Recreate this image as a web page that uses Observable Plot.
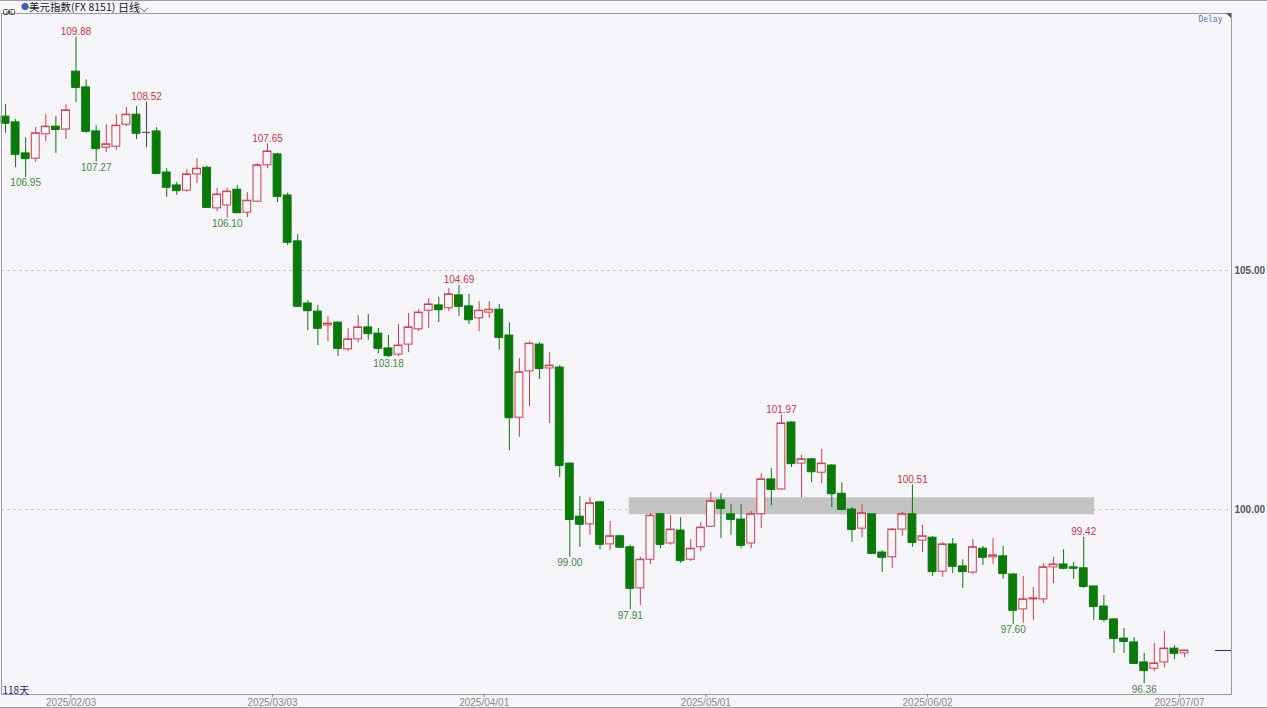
<!DOCTYPE html>
<html>
<head>
<meta charset="utf-8">
<script src="https://cdn.jsdelivr.net/npm/d3@7"></script>
<script src="https://cdn.jsdelivr.net/npm/@observablehq/plot@0.6"></script>
<style>
  html, body { margin: 0; padding: 0; background: #f5f5fa; }
  #wrap { position: relative; width: 1267px; height: 708px; overflow: hidden; background: #f5f5fa; }
  #bar { position: relative; height: 12px; border-top: 1px solid #9c9c9c; font-family: "Noto Sans CJK SC", sans-serif; font-size: 11px; line-height: 12px; color: #1a1a1a; white-space: nowrap; }
  #bar span { position: absolute; top: 0; }
  #title { font-size: 10.5px; }
  #bottom-line { position: absolute; left: 0; right: 0; top: 707px; height: 1px; background: #9c9c9c; }
  #corner { position: absolute; left: 1226px; top: 13px; width: 0; height: 0; border-top: 5px solid #555; border-left: 5px solid transparent; }
  #chart svg { display: block; }
</style>
</head>
<body>
<div id="wrap">
  <div id="bar">
    <span style="left:3px;top:3px">
      <svg width="12" height="6" viewBox="0 0 12 6"><rect x="0.5" y="0.5" width="5" height="5" rx="1" fill="none" stroke="#555"/><rect x="6.5" y="0.5" width="5" height="5" rx="1" fill="none" stroke="#555"/><line x1="3" y1="3" x2="9" y2="3" stroke="#555"/></svg>
    </span>
    <span style="left:21px;color:#3a5fb0;font-size:8px">●</span>
    <span id="title" style="left:29px"></span>
    <span id="period" style="left:118px"></span>
  </div>
  <div id="chart"></div>
  <div id="corner"></div>
  <div id="bottom-line"></div>
</div>
<script>
// US Dollar Index, daily candles 2025/01/23 – 2025/07/07
const title = "美元指数(FX 8151)";
const period = "日线⌵";
const dayCount = "118天";

const dates = [
  "2025/01/23","2025/01/24","2025/01/27","2025/01/28","2025/01/29","2025/01/30","2025/01/31",
  "2025/02/03","2025/02/04","2025/02/05","2025/02/06","2025/02/07",
  "2025/02/10","2025/02/11","2025/02/12","2025/02/13","2025/02/14",
  "2025/02/17","2025/02/18","2025/02/19","2025/02/20","2025/02/21",
  "2025/02/24","2025/02/25","2025/02/26","2025/02/27","2025/02/28",
  "2025/03/03","2025/03/04","2025/03/05","2025/03/06","2025/03/07",
  "2025/03/10","2025/03/11","2025/03/12","2025/03/13","2025/03/14",
  "2025/03/17","2025/03/18","2025/03/19","2025/03/20","2025/03/21",
  "2025/03/24","2025/03/25","2025/03/26","2025/03/27","2025/03/28",
  "2025/03/31","2025/04/01","2025/04/02","2025/04/03","2025/04/04",
  "2025/04/07","2025/04/08","2025/04/09","2025/04/10","2025/04/11",
  "2025/04/14","2025/04/15","2025/04/16","2025/04/17","2025/04/18",
  "2025/04/21","2025/04/22","2025/04/23","2025/04/24","2025/04/25",
  "2025/04/28","2025/04/29","2025/04/30","2025/05/01","2025/05/02",
  "2025/05/05","2025/05/06","2025/05/07","2025/05/08","2025/05/09",
  "2025/05/12","2025/05/13","2025/05/14","2025/05/15","2025/05/16",
  "2025/05/19","2025/05/20","2025/05/21","2025/05/22","2025/05/23",
  "2025/05/26","2025/05/27","2025/05/28","2025/05/29","2025/05/30",
  "2025/06/02","2025/06/03","2025/06/04","2025/06/05","2025/06/06",
  "2025/06/09","2025/06/10","2025/06/11","2025/06/12","2025/06/13",
  "2025/06/16","2025/06/17","2025/06/18","2025/06/19","2025/06/20",
  "2025/06/23","2025/06/24","2025/06/25","2025/06/26","2025/06/27",
  "2025/06/30","2025/07/01","2025/07/02","2025/07/03","2025/07/04",
  "2025/07/07"
];

const open = [
  108.22,108.10,107.45,107.34,107.85,108.01,107.95,
  109.16,108.83,107.91,107.57,107.59,
  108.05,108.26,107.89,107.91,107.05,
  106.78,106.67,107.01,107.15,106.30,
  106.36,106.69,106.21,106.44,107.20,
  107.43,106.57,105.61,104.31,104.14,
  103.85,103.91,103.35,103.56,103.81,
  103.68,103.37,103.24,103.45,103.77,
  104.16,104.27,104.21,104.48,104.25,
  104.00,104.12,104.18,103.64,101.92,
  102.89,103.45,102.95,102.97,100.96,
  99.85,99.69,100.15,99.27,99.44,
  99.21,98.35,98.95,99.90,99.29,
  99.56,98.95,99.21,99.64,100.19,
  99.90,99.79,99.29,99.90,100.63,
  100.42,101.82,100.96,101.05,100.77,
  100.92,100.33,100.00,99.60,99.90,
  99.10,99.00,99.58,99.90,99.35,
  99.41,98.70,99.27,98.81,98.68,
  99.18,99.00,99.02,98.64,97.91,
  98.12,98.12,98.79,98.85,98.79,
  98.77,98.39,97.97,97.70,97.30,
  97.22,96.80,96.67,96.80,97.09,
  96.99
];

const high = [
  108.47,108.16,107.78,107.99,108.26,108.22,108.47,
  109.88,108.99,108.03,108.05,108.26,
  108.41,108.43,108.52,107.99,107.13,
  106.84,107.11,107.34,107.18,106.72,
  106.72,106.78,106.63,107.24,107.65,
  107.45,106.62,105.75,104.37,104.27,
  104.04,103.93,103.79,104.06,104.08,
  103.79,103.64,103.87,104.10,104.18,
  104.41,104.44,104.62,104.69,104.50,
  104.35,104.35,104.29,103.91,103.16,
  103.51,103.49,103.28,103.01,100.98,
  100.27,100.25,100.17,99.75,99.46,
  99.25,99.00,99.92,99.92,99.87,
  99.83,99.37,99.73,100.36,100.33,
  100.10,100.10,99.96,100.75,100.86,
  101.97,101.84,101.13,101.07,101.26,
  100.94,100.56,100.04,100.10,99.90,
  99.14,99.60,99.94,100.51,99.67,
  99.44,99.31,99.39,98.95,99.37,
  99.23,99.39,99.23,98.66,98.60,
  98.37,98.87,99.00,99.16,98.89,
  99.42,98.39,98.20,97.72,97.51,
  97.32,96.99,97.20,97.45,97.15,
  97.05
];

const low = [
  107.87,107.15,106.95,107.26,107.70,107.45,107.74,
  108.51,107.87,107.27,107.47,107.51,
  108.01,107.74,107.57,107.01,106.53,
  106.57,106.64,106.82,106.30,106.23,
  106.10,106.19,106.11,106.42,107.13,
  106.42,105.52,104.23,103.74,103.43,
  103.51,103.20,103.31,103.49,103.54,
  103.26,103.18,103.20,103.28,103.72,
  103.79,103.91,104.14,104.04,103.87,
  103.72,104.00,103.33,101.23,101.51,
  102.15,102.72,101.80,100.67,99.00,
  99.21,99.46,99.16,99.14,99.19,
  97.91,97.99,98.85,99.18,99.25,
  98.87,98.91,99.12,99.62,99.39,
  99.46,99.18,99.18,99.60,100.08,
  100.40,100.88,100.25,100.56,100.54,
  100.04,99.98,99.31,99.41,99.06,
  98.68,98.77,99.44,99.21,99.10,
  98.60,98.58,98.66,98.35,98.64,
  98.83,98.85,98.54,97.60,97.62,
  97.68,98.03,98.45,98.74,98.54,
  98.35,97.68,97.64,96.99,96.99,
  96.76,96.36,96.61,96.69,96.86,
  96.90
];

const close = [
  108.08,107.43,107.34,107.87,108.01,107.95,108.35,
  108.83,107.91,107.55,107.64,108.03,
  108.26,107.87,107.89,107.03,106.74,
  106.67,107.01,107.13,106.32,106.59,
  106.65,106.21,106.46,107.20,107.49,
  106.55,105.59,104.25,104.16,103.79,
  103.89,103.37,103.56,103.81,103.68,
  103.37,103.22,103.43,103.81,104.12,
  104.29,104.18,104.50,104.25,103.97,
  104.16,104.18,103.60,101.92,102.87,
  103.47,102.95,103.01,100.92,99.79,
  99.69,100.13,99.27,99.44,99.21,
  98.35,98.95,99.87,99.27,99.58,
  98.93,99.18,99.62,100.17,100.02,
  99.79,99.25,99.90,100.63,100.42,
  101.80,100.96,101.05,100.79,100.96,
  100.33,100.00,99.58,99.92,99.08,
  99.00,99.58,99.90,99.31,99.44,
  98.70,99.27,98.81,98.70,99.21,
  99.00,99.04,98.66,97.89,98.12,
  98.14,98.79,98.85,98.77,98.77,
  98.39,97.97,97.70,97.30,97.24,
  96.78,96.63,96.78,97.09,96.99,
  97.05
];

// Swing highs / lows annotated on the chart
const highMarks = ["2025/02/03","2025/02/12","2025/02/28","2025/03/27","2025/05/12","2025/05/29","2025/06/23"];
const lowMarks  = ["2025/01/27","2025/02/05","2025/02/24","2025/03/18","2025/04/11","2025/04/21","2025/06/12","2025/07/01"];

// Shaded resistance zone around 100
const zoneFrom = "2025/04/21";
const zoneTo = "2025/06/24";
const zoneLow = 99.89;
const zoneHigh = 100.245;

const yTicks = [100, 105];
const xTicks = ["2025/02/03","2025/03/03","2025/04/01","2025/05/01","2025/06/02","2025/07/07"];

// --- styling ---
const RED = "#d23c48";
const GREEN = "#0a7a0a";
const FLAT = "#444444";
const BG = "#f5f5fa";

document.getElementById("title").textContent = title;
document.getElementById("period").textContent = period;

const candles = dates.map((date, i) => ({date, open: open[i], high: high[i], low: low[i], close: close[i]}));
const idx = new Map(dates.map((d, i) => [d, i]));
const tone = d => d.close > d.open ? RED : d.close < d.open ? GREEN : FLAT;

// band layout: first candle centred at x=5, last at x=1184
const n = dates.length;
const firstX = 5, lastX = 1184, pad = 0.22;
const step = (lastX - firstX) / (n - 1);
const r0 = firstX - step * (1 + pad) / 2;
const r1 = r0 + step * (n + pad);

const chart = Plot.plot({
  width: 1267,
  height: 694,
  marginLeft: 1,
  marginRight: 36,
  marginTop: 0,
  marginBottom: 13,
  style: {background: "transparent", fontFamily: "'Liberation Sans', Arial, sans-serif", fontSize: "10px", color: "#8a8a8a", overflow: "visible"},
  x: {type: "band", domain: dates, range: [r0, r1], padding: pad, round: false, axis: null},
  y: {domain: [96.13, 110.377], axis: null},
  color: {type: "identity"},
  marks: [
    Plot.ruleY(yTicks, {stroke: "#c6c6cc", strokeDasharray: "3,3"}),
    Plot.rect([{from: zoneFrom, to: zoneTo, lo: zoneLow, hi: zoneHigh}], {
      x1: "from", x2: "to", y1: "lo", y2: "hi", fill: "#c3c3c3", insetLeft: 3, insetRight: 3
    }),
    Plot.ruleX(candles, {x: "date", y1: "low", y2: "high", stroke: tone, strokeWidth: 1}),
    Plot.barY(candles, {
      x: "date", y1: "open", y2: "close",
      fill: d => d.close > d.open ? BG : tone(d),
      stroke: tone, strokeWidth: 1
    }),
    Plot.tickY(candles, {x: "date", y: "close", stroke: tone, strokeWidth: 1}),
    Plot.text(highMarks, {
      x: d => d, y: d => high[idx.get(d)], text: d => high[idx.get(d)].toFixed(2),
      lineAnchor: "bottom", dy: -2, fill: "#cc3640"
    }),
    Plot.text(lowMarks, {
      x: d => d, y: d => low[idx.get(d)], text: d => low[idx.get(d)].toFixed(2),
      lineAnchor: "top", dy: 2, fill: "#3c8a3c"
    }),
    Plot.ruleY([close[n - 1]], {stroke: "#2b2b80", insetLeft: 1214}),
    Plot.frame({stroke: "#9c9c9c"}),
    Plot.axisY(yTicks, {
      anchor: "right", tickSize: 0, tickPadding: 3, tickFormat: d => d.toFixed(2),
      fill: "#555", fontWeight: "bold"
    }),
    Plot.axisX(xTicks, {
      anchor: "bottom", tickSize: 3, tickPadding: 1, dx: -5, tickFormat: d => d
    }),
    Plot.text([dayCount], {frameAnchor: "bottom-left", dx: 1, dy: -1, fill: "#2a2a7a", fontFamily: "'Noto Sans CJK SC', sans-serif"}),
    Plot.text(["Delay"], {frameAnchor: "top-right", dx: -9, dy: 3, fill: "#5a78a8", fontSize: 8, fontFamily: "'DejaVu Sans Mono', monospace"})
  ]
});

document.getElementById("chart").appendChild(chart);
</script>
</body>
</html>
